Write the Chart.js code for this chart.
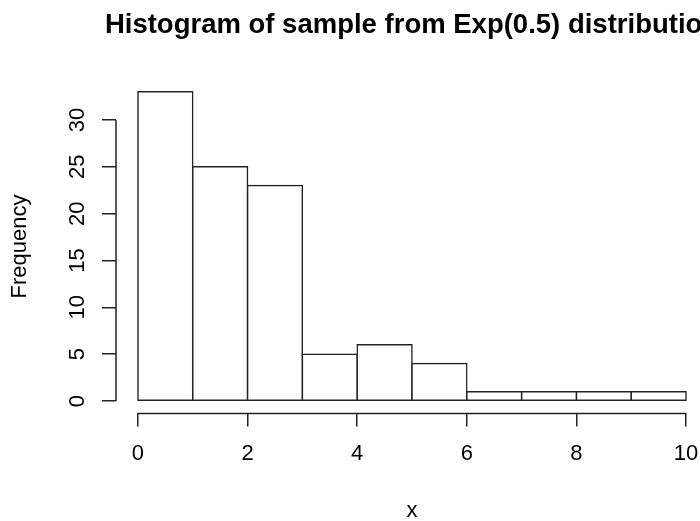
<!DOCTYPE html>
<html>
<head>
<meta charset="utf-8">
<script src="https://cdn.jsdelivr.net/npm/chart.js@4.4.1/dist/chart.umd.min.js"></script>
<style>
  html, body { margin: 0; overflow: hidden; background: #fff; }
  #hist { display: block; }
</style>
</head>
<body>
<!-- plot region runs a little past the right edge of the window -->
<canvas id="hist" width="708" height="521"></canvas>
<script>
const binStarts = [0, 1, 2, 3, 4, 5, 6, 7, 8, 9];
const binWidth = 1;
const counts = [33, 25, 23, 5, 6, 4, 1, 1, 1, 1];
const xTicks = [0, 2, 4, 6, 8, 10];
const yTicks = [0, 5, 10, 15, 20, 25, 30];
const titleText = 'Histogram of sample from Exp(0.5) distribution';
const xLabel = 'x';
const yLabel = 'Frequency';

const FONT = '"Liberation Sans", Arial, sans-serif';
const INK = '#222';

// pad each axis range by 4%, like R does
const xLo = binStarts[0];
const xHi = binStarts[binStarts.length - 1] + binWidth;
const yHi = Math.max(...counts);
const xPad = 0.04 * (xHi - xLo);
const yPad = 0.04 * yHi;

// axis lines only run from first to last tick
const axisLines = {
    id: 'axisLines',
    afterDraw(chart) {
        const {ctx, scales: {x, y}} = chart;
        ctx.save();
        ctx.strokeStyle = INK;
        ctx.lineWidth = 1.5;
        ctx.beginPath();
        ctx.moveTo(x.getPixelForValue(xTicks[0]), x.top);
        ctx.lineTo(x.getPixelForValue(xTicks[xTicks.length - 1]), x.top);
        ctx.moveTo(y.right, y.getPixelForValue(yTicks[0]));
        ctx.lineTo(y.right, y.getPixelForValue(yTicks[yTicks.length - 1]));
        ctx.stroke();
        ctx.restore();
    }
};

// main title, centred over the plot region
const mainTitle = {
    id: 'mainTitle',
    afterDraw(chart) {
        const {ctx, chartArea} = chart;
        ctx.save();
        ctx.font = 'bold 27.5px ' + FONT;
        ctx.fillStyle = '#000';
        ctx.textAlign = 'center';
        ctx.textBaseline = 'alphabetic';
        ctx.fillText(titleText, (chartArea.left + chartArea.right) / 2, 33);
        ctx.restore();
    }
};

const tickFont = {family: FONT, size: 22};
const titleFont = {family: FONT, size: 22, lineHeight: 1};

new Chart(document.getElementById('hist'), {
    type: 'bar',
    data: {
        datasets: [{
            data: binStarts.map((s, i) => ({x: s + binWidth / 2, y: counts[i]})),
            backgroundColor: '#fff',
            borderColor: INK,
            borderWidth: 1.5,
            borderSkipped: false,
            inflateAmount: 0.75,
            barPercentage: 1,
            categoryPercentage: 1
        }]
    },
    options: {
        responsive: false,
        animation: false,
        events: [],
        layout: {padding: {top: 79.5, right: 0, left: 0, bottom: 0}},
        plugins: {
            legend: {display: false},
            tooltip: {enabled: false},
            title: {display: false}
        },
        scales: {
            x: {
                type: 'linear',
                min: xLo - xPad,
                max: xHi + xPad,
                offset: false,
                afterBuildTicks: s => { s.ticks = xTicks.map(v => ({value: v})); },
                afterFit: s => {
                    s.height = 107.6;
                    s.paddingLeft = 0;
                    s.paddingRight = 0;
                },
                ticks: {font: tickFont, color: '#000', padding: 14.6, autoSkip: false, maxRotation: 0},
                grid: {display: true, offset: false, drawOnChartArea: false, drawTicks: true,
                       tickLength: 13, color: INK, lineWidth: 1.5},
                border: {display: false},
                title: {display: true, text: xLabel, font: titleFont, color: '#000',
                        padding: {top: 0, bottom: -1.4}}
            },
            y: {
                type: 'linear',
                min: -yPad,
                max: yHi + yPad,
                afterBuildTicks: s => { s.ticks = yTicks.map(v => ({value: v})); },
                afterFit: s => {
                    s.width = 116;
                    s.paddingTop = 0;
                    s.paddingBottom = 0;
                },
                ticks: {font: tickFont, color: '#000', padding: 11.4, crossAlign: 'center',
                        minRotation: 90, maxRotation: 90, autoSkip: false},
                grid: {display: true, drawOnChartArea: false, drawTicks: true,
                       tickLength: 14, color: INK, lineWidth: 1.5},
                border: {display: false},
                title: {display: true, text: yLabel, font: titleFont, color: '#000',
                        padding: {top: 9.1, bottom: 0}}
            }
        }
    },
    plugins: [axisLines, mainTitle]
});
</script>
</body>
</html>
